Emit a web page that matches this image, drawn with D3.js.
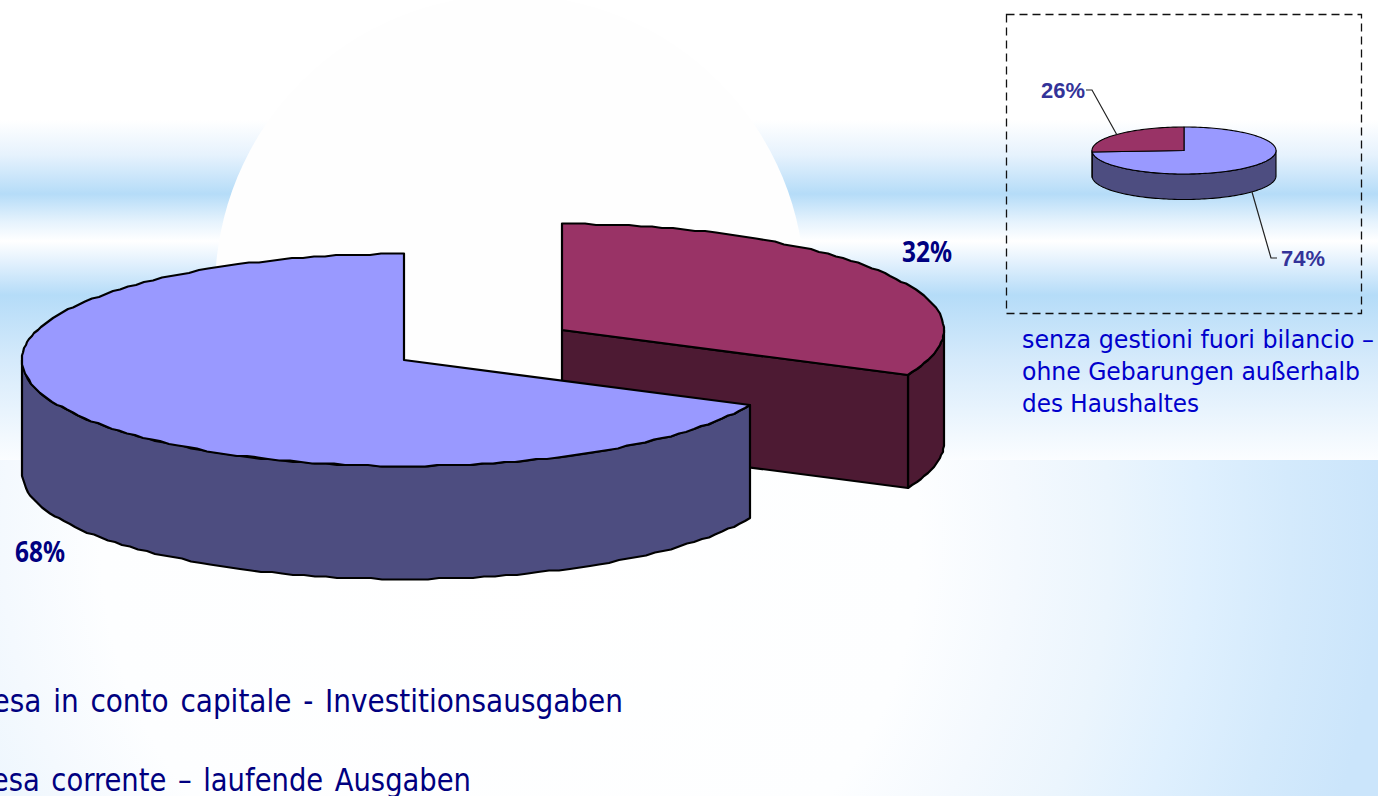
<!DOCTYPE html>
<html>
<head>
<meta charset="utf-8">
<script src="https://cdnjs.cloudflare.com/ajax/libs/d3/7.8.5/d3.min.js"></script>
<style>
html, body { margin: 0; padding: 0; background: #fff; overflow: hidden; }
svg { display: block; }
</style>
</head>
<body>
<div class="container"></div>
<script>
//Width and height
var w = 1378;
var h = 796;

// data
var mainCategories = ["Spesa in conto capitale - Investitionsausgaben", "Spesa corrente \u2013 laufende Ausgaben"];
var mainValues = [32, 68];
var mainLabels = ["32%", "68%"];
var insetValues = [74, 26];
var insetLabels = ["74%", "26%"];
var noteLines = ["senza gestioni fuori bilancio \u2013", "ohne Gebarungen au\u00dferhalb", "des Haushaltes"];

var topColor = { capital: "#993366", current: "#9999ff" };
var sideColor = { capital: "#4d1a33", current: "#4d4d80" };

var svg = d3.select(".container")
    .append("svg")
    .attr("width", w)
    .attr("height", h);

/* Background */
var defs = svg.append("defs");

var bands = defs.append("linearGradient")
    .attr("id", "bands")
    .attr("gradientUnits", "userSpaceOnUse")
    .attr("x1", 0).attr("x2", 0)
    .attr("y1", 120).attr("y2", 460);

[[120, "#ffffff"], [155, "#e6f2fd"], [194, "#b5dcf8"], [222, "#e6f3fd"], [241, "#ffffff"], [262, "#e3f1fd"], [295, "#b5dcf8"], [360, "#d5eafb"], [460, "#fbfdff"]]
  .forEach(function(s) {
    bands.append("stop")
        .attr("offset", (s[0] - 120) / 340)
        .attr("stop-color", s[1]);
  });

var glow = defs.append("radialGradient")
    .attr("id", "glow")
    .attr("gradientUnits", "userSpaceOnUse")
    .attr("cx", 510).attr("cy", 540).attr("r", 870);

[[0, "#ffffff"], [0.47, "#fdfeff"], [0.583, "#f4f9fe"], [0.69, "#ebf5fd"], [0.793, "#dff0fe"], [0.897, "#d4eafc"], [1, "#cbe5fb"]]
  .forEach(function(s) {
    glow.append("stop")
        .attr("offset", s[0])
        .attr("stop-color", s[1]);
  });

svg.append("rect").attr("width", w).attr("height", h).attr("fill", "#fff");
svg.append("rect").attr("y", 120).attr("width", w).attr("height", 340).attr("fill", "url(#bands)");

defs.append("clipPath").attr("id", "bandClip")
  .append("rect").attr("width", w).attr("height", 460);

svg.append("circle")
    .attr("clip-path", "url(#bandClip)")
    .attr("cx", 510).attr("cy", 290).attr("r", 295)
    .attr("fill", "#fefefe");

svg.append("rect").attr("y", 460).attr("width", w).attr("height", 336).attr("fill", "url(#glow)");

/* 3D pie drawn from d3.pie angles */
function drawPie(cfg) {
  var g = svg.append("g");
  var slices = d3.pie().sort(null).startAngle(cfg.start).endAngle(cfg.start + 2 * Math.PI)
      .value(function(d) { return d.value; })(cfg.data);

  var sx = d3.scaleLinear().domain([-1, 1]).range([-cfg.rx, cfg.rx]);
  var sy = d3.scaleLinear().domain([-1, 1]).range([cfg.ry, -cfg.ry]);

  var line = d3.line();

  // the source image has a slightly stepped outline, so snap the big pie to whole pixels
  function pt(a, c, dy) {
    var px = c[0] + sx(Math.sin(a));
    var py = c[1] + sy(Math.cos(a));
    if (cfg.snap) {
      px = Math.round(px);
      py = Math.round(py / 1.5) * 1.5;
    }
    return [px, py + dy];
  }

  function rim(a0, a1, c, dy) {
    var n = Math.max(1, Math.ceil(Math.abs(a1 - a0) / cfg.step));
    return d3.range(n + 1).map(function(i) {
      return pt(a0 + (a1 - a0) * i / n, c, dy);
    });
  }

  slices.forEach(function(s) {
    var c = s.data.center;
    var a0 = s.startAngle, a1 = s.endAngle;
    var slice = g.append("g");

    // walls: only the front half of the rim shows (90deg to 270deg)
    var f0 = Math.max(a0, Math.PI / 2), f1 = Math.min(a1, 1.5 * Math.PI);
    if (f1 > f0) {
      var wall = rim(f0, f1, c, 0).concat(rim(f1, f0, c, cfg.depth));
      slice.append("path")
          .attr("d", line(wall) + "Z")
          .attr("fill", s.data.side)
          .attr("stroke", "#000")
          .attr("stroke-width", cfg.stroke)
          .attr("stroke-linejoin", "round");
    }

    // cut face, when the slice was pulled out
    if (s.data.cutFace) {
      var e = pt(a1, c, 0), e2 = pt(a1, c, cfg.depth);
      slice.append("path")
          .attr("d", line([[c[0], c[1]], e, e2, [c[0], c[1] + cfg.depth]]) + "Z")
          .attr("fill", s.data.side)
          .attr("stroke", "#000")
          .attr("stroke-width", cfg.stroke)
          .attr("stroke-linejoin", "round");
    }

    slice.append("path")
        .attr("d", line([[c[0], c[1]]].concat(rim(a0, a1, c, 0))) + "Z")
        .attr("fill", s.data.top)
        .attr("stroke", "#000")
        .attr("stroke-width", cfg.stroke)
        .attr("stroke-linejoin", "round");
  });
}

drawPie({
  start: 0, rx: 382, ry: 106, depth: 113, stroke: 2.2, step: 0.03, snap: true,
  data: [
    { value: mainValues[0], center: [562, 330], top: topColor.capital, side: sideColor.capital, cutFace: true },
    { value: mainValues[1], center: [404, 360], top: topColor.current, side: sideColor.current, cutFace: false }
  ]
});

drawPie({
  start: 0, rx: 92, ry: 23.5, depth: 25.5, stroke: 1.1, step: 0.03, snap: false,
  data: [
    { value: insetValues[0], center: [1184, 150.5], top: topColor.current, side: sideColor.current, cutFace: false },
    { value: insetValues[1], center: [1184, 150.5], top: topColor.capital, side: sideColor.capital, cutFace: false }
  ]
});

/* Inset box and leader lines */
svg.append("rect")
    .attr("x", 1006.5).attr("y", 14.5)
    .attr("width", 355).attr("height", 299)
    .attr("fill", "none")
    .attr("stroke", "#111")
    .attr("stroke-width", 1.3)
    .attr("stroke-dasharray", "8,5");

var leader = d3.line();
[[[1086, 90], [1092, 90], [1117, 135]], [[1252, 192], [1271, 258], [1277, 258]]]
  .forEach(function(p) {
    svg.append("path")
        .attr("d", leader(p))
        .attr("fill", "none")
        .attr("stroke", "#222")
        .attr("stroke-width", 1.2);
  });

/* Text */
function addText(str, x, y, len, size, family, weight, fill, wordSpace) {
  svg.append("text")
      .attr("x", x)
      .attr("y", y)
      .attr("textLength", len)
      .attr("lengthAdjust", "spacingAndGlyphs")
      .attr("font-family", family)
      .attr("font-size", size)
      .attr("font-weight", weight)
      .attr("word-spacing", wordSpace || 0)
      .attr("fill", fill)
      .text(str);
}

var uiFont = "'DejaVu Sans Condensed', 'DejaVu Sans', sans-serif";
var labelFont = "'Noto Sans', sans-serif";
var arial = "'Liberation Sans', Arial, sans-serif";

addText(mainLabels[0], 902, 262, 50, 28, labelFont, "bold", "#000080");
addText(mainLabels[1], 15, 562, 50, 28, labelFont, "bold", "#000080");
addText(insetLabels[1], 1041, 98, 44, 22.5, arial, "bold", "#333399");
addText(insetLabels[0], 1281, 266, 44, 22.5, arial, "bold", "#333399");

addText(mainCategories[0], -43, 712, 666, 32, uiFont, "normal", "#000080", 3);
addText(mainCategories[1], -43, 791, 514, 32, uiFont, "normal", "#000080", 3);

addText(noteLines[0], 1022, 348, 352, 25, uiFont, "normal", "#0000cc");
addText(noteLines[1], 1022, 380, 338, 25, uiFont, "normal", "#0000cc");
addText(noteLines[2], 1022, 412, 177, 25, uiFont, "normal", "#0000cc");
</script>
</body>
</html>
